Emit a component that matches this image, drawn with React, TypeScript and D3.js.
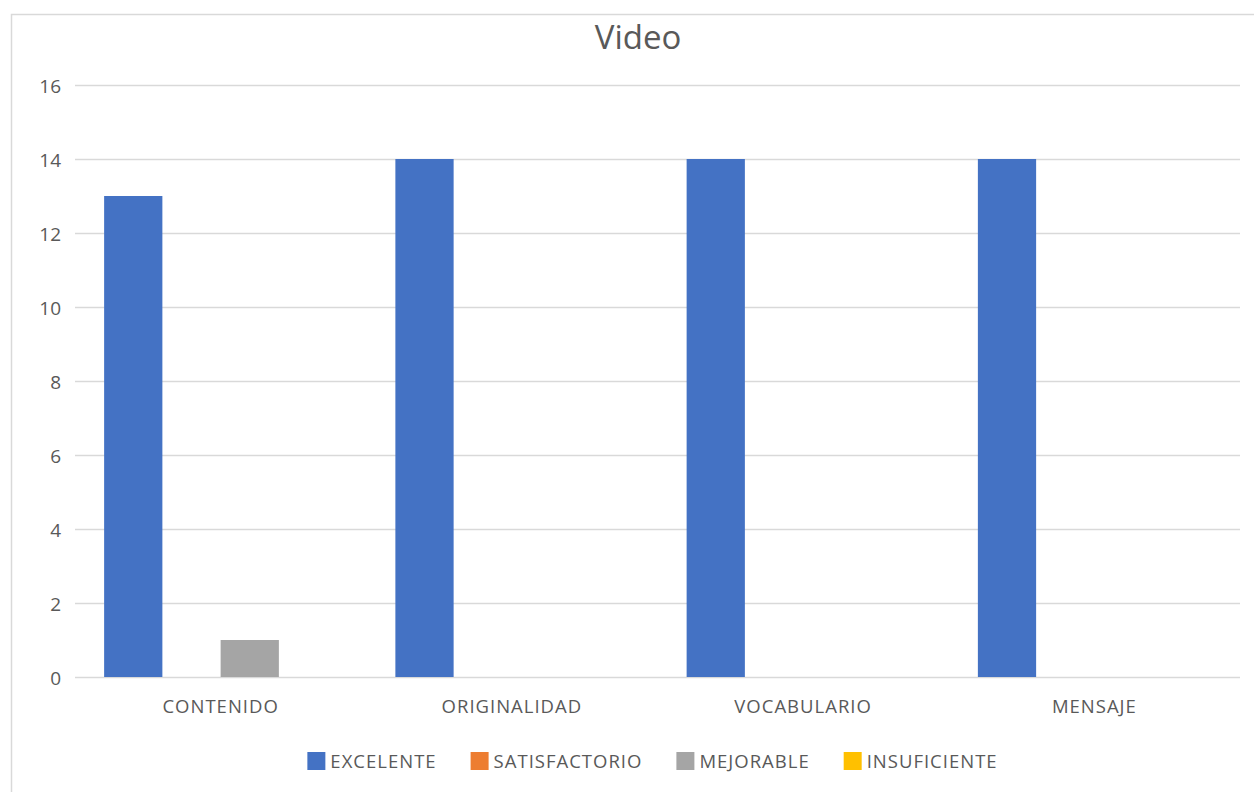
import React, { useEffect, useRef } from "react";
import * as d3 from "d3";

const categories = ["CONTENIDO", "ORIGINALIDAD", "VOCABULARIO", "MENSAJE"];
const seriesNames = ["EXCELENTE", "SATISFACTORIO", "MEJORABLE", "INSUFICIENTE"];
const excelente = [13, 14, 14, 14];
const satisfactorio = [0, 0, 0, 0];
const mejorable = [1, 0, 0, 0];
const insuficiente = [0, 0, 0, 0];
const seriesColors = ["#4472C4", "#ED7D31", "#A5A5A5", "#FFC000"];
const yTicks = [0, 2, 4, 6, 8, 10, 12, 14, 16];
const title = "Video";

const W = 1254;
const H = 792;
const FONT = "'Open Sans', 'Segoe UI', sans-serif";
const TEXT = "#595959";

export default function App() {
  const ref = useRef<SVGSVGElement>(null);

  useEffect(() => {
    const svg = d3.select(ref.current);
    svg.selectAll("*").remove();

    const values = [excelente, satisfactorio, mejorable, insuficiente];
    const plot = { left: 75, right: 1240, top: 85, bottom: 677 };

    svg.append("rect").attr("x", 0).attr("y", 0).attr("width", W).attr("height", H).attr("fill", "#fff");
    svg
      .append("rect")
      .attr("x", 11.5)
      .attr("y", 14.5)
      .attr("width", W + 20)
      .attr("height", H + 20)
      .attr("fill", "#fff")
      .attr("stroke", "#d9d9d9")
      .attr("stroke-width", 1.5);

    const y = d3.scaleLinear().domain([0, 16]).range([plot.bottom, plot.top]);
    const x0 = d3.scaleBand<string>().domain(categories).range([plot.left, plot.right]).paddingInner(0).paddingOuter(0);
    const x1 = d3
      .scaleBand<string>()
      .domain(seriesNames)
      .range([0, x0.bandwidth()])
      .paddingInner(0)
      .paddingOuter(0.5);

    // gridlines
    svg
      .append("g")
      .selectAll("line")
      .data(yTicks)
      .join("line")
      .attr("x1", plot.left)
      .attr("x2", plot.right)
      .attr("y1", (d) => Math.round(y(d)) + 0.5)
      .attr("y2", (d) => Math.round(y(d)) + 0.5)
      .attr("stroke", "#d9d9d9")
      .attr("stroke-width", 1.5);

    // y labels
    svg
      .append("g")
      .selectAll("text")
      .data(yTicks)
      .join("text")
      .attr("x", 61)
      .attr("y", (d) => y(d) + 1)
      .attr("dy", "0.36em")
      .attr("text-anchor", "end")
      .attr("font-family", FONT)
      .attr("font-size", 19)
      .attr("fill", TEXT)
      .text((d) => d);

    // bars
    const g = svg.append("g");
    categories.forEach((cat, ci) => {
      seriesNames.forEach((s, si) => {
        const v = values[si][ci];
        if (v <= 0) return;
        g.append("rect")
          .attr("x", (x0(cat) as number) + (x1(s) as number))
          .attr("y", y(v))
          .attr("width", x1.bandwidth())
          .attr("height", y(0) - y(v))
          .attr("fill", seriesColors[si]);
      });
    });

    // category labels
    svg
      .append("g")
      .selectAll("text")
      .data(categories)
      .join("text")
      .attr("x", (d) => (x0(d) as number) + x0.bandwidth() / 2)
      .attr("y", 706)
      .attr("dy", "0.36em")
      .attr("text-anchor", "middle")
      .attr("font-family", FONT)
      .attr("font-size", 18.5)
      .attr("letter-spacing", 1)
      .attr("fill", TEXT)
      .text((d) => d);

    // title
    svg
      .append("text")
      .attr("x", 638)
      .attr("y", 37)
      .attr("dy", "0.36em")
      .attr("text-anchor", "middle")
      .attr("font-family", FONT)
      .attr("font-size", 33)
      .attr("fill", TEXT)
      .text(title);

    // legend
    const lg = svg.append("g");
    const sw = 18;
    const gapSwText = 5;
    const gapItem = 34;
    const items = seriesNames.map((name, i) => {
      const item = lg.append("g");
      item.append("rect").attr("width", sw).attr("height", sw).attr("y", -sw / 2).attr("fill", seriesColors[i]);
      const t = item
        .append("text")
        .attr("x", sw + gapSwText)
        .attr("dy", "0.36em")
        .attr("font-family", FONT)
        .attr("font-size", 18.5)
        .attr("letter-spacing", 1)
        .attr("fill", TEXT)
        .text(name);
      const w = sw + gapSwText + (t.node() as SVGTextElement).getComputedTextLength();
      return { item, w };
    });
    const total = d3.sum(items, (d) => d.w) + gapItem * (items.length - 1);
    let cx = 652.5 - total / 2;
    items.forEach(({ item, w }) => {
      item.attr("transform", `translate(${cx},761)`);
      cx += w + gapItem;
    });
  }, []);

  return (
    <svg
      ref={ref}
      width={W}
      height={H}
      style={{ position: "absolute", left: 0, top: 0, display: "block" }}
    />
  );
}
